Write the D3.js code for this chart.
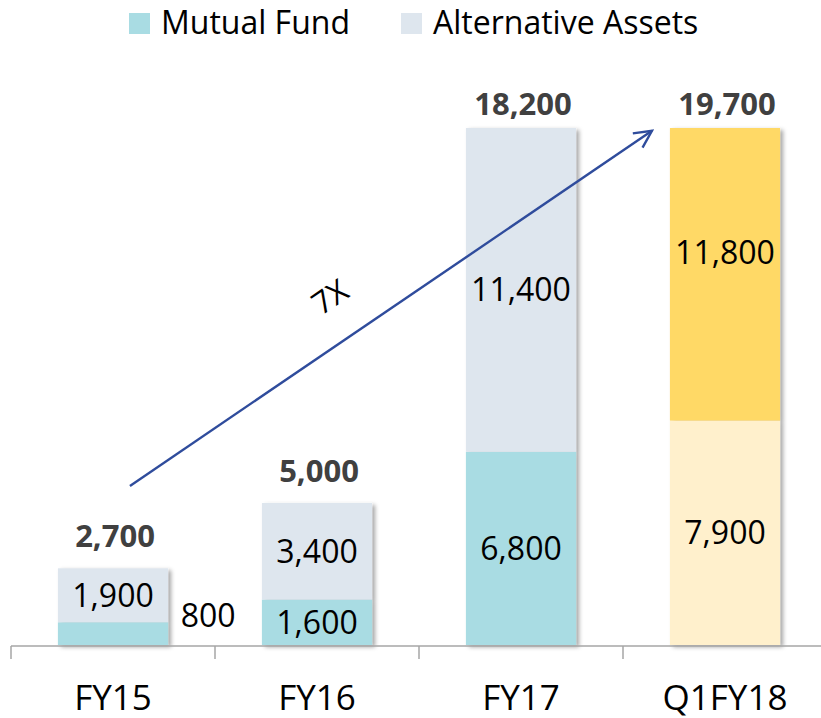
<!DOCTYPE html>
<html>
<head>
<meta charset="utf-8">
<script src="https://cdn.jsdelivr.net/npm/d3@7"></script>
<style>
  html, body { margin: 0; padding: 0; background: #fff; }
  svg { display: block; font-family: "Open Sans", "Noto Sans", sans-serif; }
</style>
</head>
<body>
<div id="chart"></div>
<script>
const categories   = ['FY15', 'FY16', 'FY17', 'Q1FY18'];
const mutualFund   = [800, 1600, 6800, 7900];
const alternatives = [1900, 3400, 11400, 11800];
const totals       = [2700, 5000, 18200, 19700];
const seriesNames  = ['Mutual Fund', 'Alternative Assets'];

// Q1FY18 is drawn in yellow tones instead of the legend colours
const COLORS = {
  mf:  '#a9dce3',
  alt: '#dee6ee',
  q1mf:  '#fff0cc',
  q1alt: '#ffd966',
};

const width = 821, height = 718;
const baseY = 645, topY = 128;

const svg = d3.select('#chart').append('svg')
  .attr('width', width)
  .attr('height', height);

const defs = svg.append('defs');
const shadow = defs.append('filter').attr('id', 'shadow')
  .attr('x', '-10%').attr('y', '-10%').attr('width', '130%').attr('height', '130%');
shadow.append('feDropShadow')
  .attr('dx', 3).attr('dy', 2).attr('stdDeviation', 2.2)
  .attr('flood-color', '#000').attr('flood-opacity', 0.35);

const marker = defs.append('marker')
  .attr('id', 'arrowhead')
  .attr('viewBox', '0 0 20 20')
  .attr('refX', 18).attr('refY', 10)
  .attr('markerWidth', 9).attr('markerHeight', 9)
  .attr('markerUnits', 'strokeWidth')
  .attr('orient', 'auto');
marker.append('path')
  .attr('d', 'M2,2 L18,10 L2,18')
  .attr('fill', 'none')
  .attr('stroke', '#2f4c9c')
  .attr('stroke-width', 2.2);

// axis max matches FY17; the Q1FY18 bar is clipped at the top like the original
const x = d3.scaleBand().domain(categories).range([11, 827])
  .paddingInner(0.46).paddingOuter(0.23);
const y = d3.scaleLinear().domain([0, 18200]).range([baseY, topY]);
const yc = y.copy().clamp(true);

const rows = categories.map((c, i) => ({
  cat: c, i,
  segs: [
    { y0: 0, y1: mutualFund[i], v: mutualFund[i], color: c === 'Q1FY18' ? COLORS.q1mf : COLORS.mf },
    { y0: mutualFund[i], y1: mutualFund[i] + alternatives[i], v: alternatives[i], color: c === 'Q1FY18' ? COLORS.q1alt : COLORS.alt },
  ],
}));

// bars
const barG = svg.append('g');
const bar = barG.selectAll('g.bar').data(rows).enter().append('g')
  .attr('class', 'bar')
  .attr('filter', 'url(#shadow)');
bar.selectAll('rect').data(d => d.segs.map(s => ({ ...s, cat: d.cat }))).enter().append('rect')
  .attr('x', d => x(d.cat))
  .attr('width', x.bandwidth())
  .attr('y', d => yc(d.y1))
  .attr('height', d => yc(d.y0) - yc(d.y1))
  .attr('fill', d => d.color);

// axis
const axisG = svg.append('g').attr('stroke', '#a6a6a6').attr('stroke-width', 1.5);
axisG.append('line')
  .attr('x1', 11).attr('x2', width)
  .attr('y1', baseY + 1).attr('y2', baseY + 1);
const step = x.step();
const tickXs = d3.range(categories.length + 1).map(k => x(categories[0]) - x.paddingOuter() * step + k * step);
axisG.selectAll('line.tick').data(tickXs).enter().append('line')
  .attr('class', 'tick')
  .attr('x1', d => d).attr('x2', d => d)
  .attr('y1', baseY + 1).attr('y2', baseY + 14);

svg.append('g').selectAll('text').data(categories).enter().append('text')
  .attr('x', d => x(d) + x.bandwidth() / 2)
  .attr('y', 710)
  .attr('text-anchor', 'middle')
  .attr('font-size', 35)
  .attr('fill', '#000')
  .text(d => d);

// segment labels, centred on the unclipped segment (as Excel does)
const fmt = d3.format(',');
const segLabels = [];
rows.forEach(r => r.segs.forEach((s, k) => segLabels.push({ ...s, cat: r.cat, k })));
svg.append('g').selectAll('text').data(segLabels).enter().append('text')
  .attr('x', d => (d.cat === 'FY15' && d.k === 0)
    ? x(d.cat) + x.bandwidth() + 40
    : x(d.cat) + x.bandwidth() / 2)
  .attr('y', d => (d.cat === 'FY15' && d.k === 0)
    ? y(d.y1) + 5
    : (y(d.y0) + y(d.y1)) / 2 + 11.5)
  .attr('text-anchor', 'middle')
  .attr('font-size', 32)
  .attr('fill', '#000')
  .text(d => fmt(d.v));

// totals
svg.append('g').selectAll('text').data(rows).enter().append('text')
  .attr('x', d => x(d.cat) + x.bandwidth() / 2 + 2)
  .attr('y', d => Math.max(yc(totals[d.i]) - 21, 115))
  .attr('text-anchor', 'middle')
  .attr('font-size', 31)
  .attr('font-weight', 700)
  .attr('fill', '#404040')
  .text(d => fmt(totals[d.i]));

// growth arrow
const arrowFrom = { cat: 'FY15', dx: 0.083, value: 5600 };
const arrowTo   = { cat: 'Q1FY18', dx: -0.358, value: 18100 };
const ax = p => x(p.cat) + x.bandwidth() / 2 + p.dx * step;
const x1 = ax(arrowFrom), y1 = y(arrowFrom.value);
const x2 = ax(arrowTo), y2 = y(arrowTo.value);
svg.append('line')
  .attr('x1', x1).attr('y1', y1)
  .attr('x2', x2).attr('y2', y2)
  .attr('stroke', '#2f4c9c')
  .attr('stroke-width', 2.4)
  .attr('marker-end', 'url(#arrowhead)');

const angle = Math.atan2(y2 - y1, x2 - x1) * 180 / Math.PI;
svg.append('text')
  .attr('transform', `translate(336,306) rotate(${angle})`)
  .attr('text-anchor', 'middle')
  .attr('font-size', 31)
  .attr('fill', '#000')
  .text('7X');

// legend
const legendX = [129, 401];
const legend = svg.append('g').selectAll('g').data(seriesNames).enter().append('g')
  .attr('transform', (d, i) => `translate(${legendX[i]},0)`);
legend.append('rect')
  .attr('x', 0).attr('y', 13)
  .attr('width', 21).attr('height', 21)
  .attr('fill', (d, i) => i === 0 ? COLORS.mf : COLORS.alt);
legend.append('text')
  .attr('x', 32).attr('y', 34)
  .attr('font-size', 32)
  .attr('fill', '#000')
  .text(d => d);
</script>
</body>
</html>
